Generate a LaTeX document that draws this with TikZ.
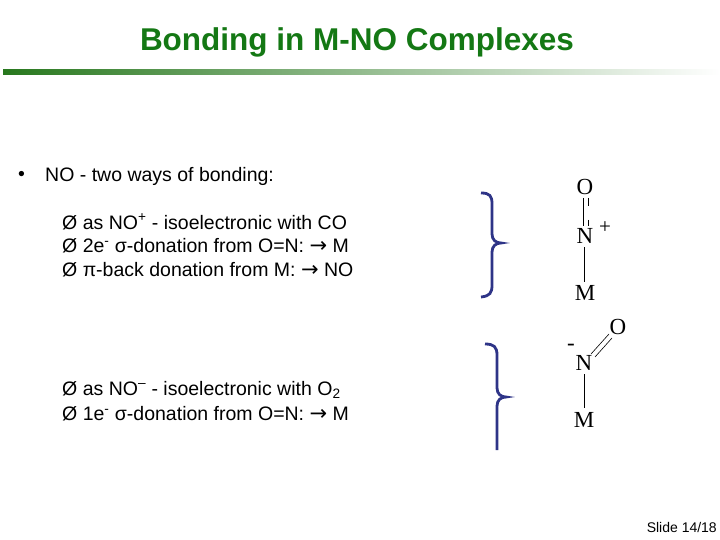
\documentclass[tikz,border=0pt]{standalone}
\usepackage{fontspec}
\setmainfont{Liberation Sans}
\newfontfamily\chem{Liberation Serif}
\newfontfamily\arr{DejaVu Sans}
\definecolor{titlegreen}{RGB}{20,120,20}
\definecolor{bracec}{RGB}{46,52,135}
\definecolor{bargreen}{RGB}{40,120,30}
\newcommand{\rarr}{{\arr\fontsize{21}{22}\selectfont →}}
\begin{document}
\begin{tikzpicture}[x=1pt,y=-1pt,
  body/.style={anchor=west,inner sep=0pt,font=\fontsize{19.5}{22}\selectfont},
  atom/.style={inner sep=0pt,font=\chem\fontsize{23}{25}\selectfont},
  brace/.style={draw=bracec,line width=2.8pt},
  bond/.style={line width=0.6pt}]
\useasboundingbox (0,0) rectangle (720,540);
\shade[left color=bargreen,right color=white] (3,69.5) rectangle (720,74.5);
\node[font=\bfseries\fontsize{31.5}{34}\selectfont,text=titlegreen] (title) at (357,42) {Bonding in M-NO Complexes};
\node[body] (bul) at (18,176) {•};
\node[body] (b0) at (45,176) {NO - two ways of bonding:};
\node[body] (b1) at (62,222) {Ø as NO\textsuperscript{+} - isoelectronic with CO};
\node[body] (b2) at (62,246) {Ø 2e\textsuperscript{-} σ-donation from O=N: \rarr{} M};
\node[body] (b3) at (62,270) {Ø π-back donation from M: \rarr{} NO};
\node[body] (b4) at (62,390) {Ø as NO\textsuperscript{–} - isoelectronic with O\textsubscript{2}};
\node[body] (b5) at (62,414) {Ø 1e\textsuperscript{-} σ-donation from O=N: \rarr{} M};
% braces
\draw[brace] (481,193) .. controls (490,193) and (492,196) .. (492,204) -- (492,234) .. controls (492,240) and (496,243) .. (501,243)
  .. controls (496,243) and (492,246) .. (492,252) -- (492,285) .. controls (492,293) and (490,296) .. (481,297);
\draw[brace] (485,344) .. controls (494,344) and (497,347) .. (497,355) -- (497,388) .. controls (497,394) and (501,397) .. (506,397)
  .. controls (501,397) and (497,400) .. (497,406) -- (497,450);
% top molecule
\node[atom] (o1) at (585,187) {O};
\node[atom] (n1) at (585,236) {N};
\node[atom,font=\chem\fontsize{21}{22}\selectfont] (p1) at (605,228) {+};
\node[atom] (m1) at (585,293) {M};
\draw[bond] (583,198) -- (583,226);
\draw[bond] (588,198) -- (588,206);
\draw[bond] (588,220) -- (588,226);
\draw[bond] (584,247) -- (584,282);
% bottom molecule
\node[atom] (o2) at (618,327) {O};
\node[atom] (n2) at (584,363) {N};
\node[atom] (neg) at (571,347) {-};
\node[atom] (m2) at (584,420) {M};
\draw[bond] (591,354) -- (609,334);
\draw[bond] (595,357) -- (612,338);
\draw[bond] (584,374) -- (584,408);
\node[anchor=east,inner sep=0pt,font=\fontsize{14}{16}\selectfont] (slide) at (717,527) {Slide 14/18};
\end{tikzpicture}
\end{document}
